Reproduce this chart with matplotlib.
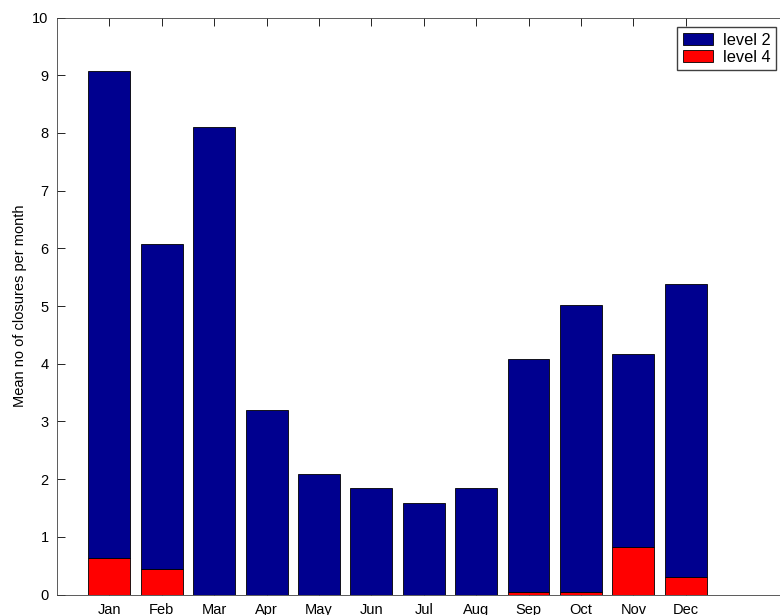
import matplotlib
matplotlib.use('Agg')
import matplotlib.pyplot as plt
import numpy as np

matplotlib.rcParams.update({
    'font.family': ['Liberation Sans', 'DejaVu Sans'],
    'font.size': 10,
})

months = ['Jan', 'Feb', 'Mar', 'Apr', 'May', 'Jun',
          'Jul', 'Aug', 'Sep', 'Oct', 'Nov', 'Dec']
# visible bar tops (level 2 + level 4 stacked)
total = [9.08, 6.07, 8.11, 3.20, 2.08, 1.85, 1.58, 1.85, 4.08, 5.01, 4.17, 5.38]
level4 = [0.64, 0.45, 0.0, 0.0, 0.0, 0.0, 0.0, 0.0, 0.04, 0.04, 0.82, 0.31]
level2 = [t - r for t, r in zip(total, level4)]

fig = plt.figure(figsize=(7.8, 6.15), dpi=100)
# axes runs past the right edge of the picture, like the cropped original
ax = fig.add_axes([57.0 / 780, 20.5 / 615, 733.5 / 780, 577.0 / 615])

x = np.arange(1, len(months) + 1)
b4 = ax.bar(x, level4, 0.8, color='#FF0000', edgecolor='black', linewidth=0.6,
            label='level 4', zorder=2)
b2 = ax.bar(x, level2, 0.8, bottom=level4, color='#00008F', edgecolor='black',
            linewidth=0.6, label='level 2', zorder=2)

ax.set_xlim(0, 14)
ax.set_ylim(0, 10)
ax.set_xticks(x)
ax.set_xticklabels(months)
ax.set_yticks(np.arange(0, 11, 1))
ax.tick_params(direction='in', top=True, right=True, length=5.5, width=0.6,
               pad=6, labelsize=10.5)
for s in ax.spines.values():
    s.set_linewidth(0.6)
    s.set_color('#404040')
ax.set_ylabel('Mean no of closures per month', fontsize=10.5, labelpad=4)

ax.legend([b2, b4], ['level 2', 'level 4'], loc='upper left',
          bbox_to_anchor=(677 / 780, 1 - 27 / 615),
          bbox_transform=fig.transFigure, borderaxespad=0, frameon=True,
          fancybox=False, edgecolor='#404040', framealpha=1, borderpad=0.35,
          handlelength=1.85, handleheight=0.8, labelspacing=0.12,
          handletextpad=0.6, fontsize=11.8)

fig.savefig('out.png', dpi=100)
